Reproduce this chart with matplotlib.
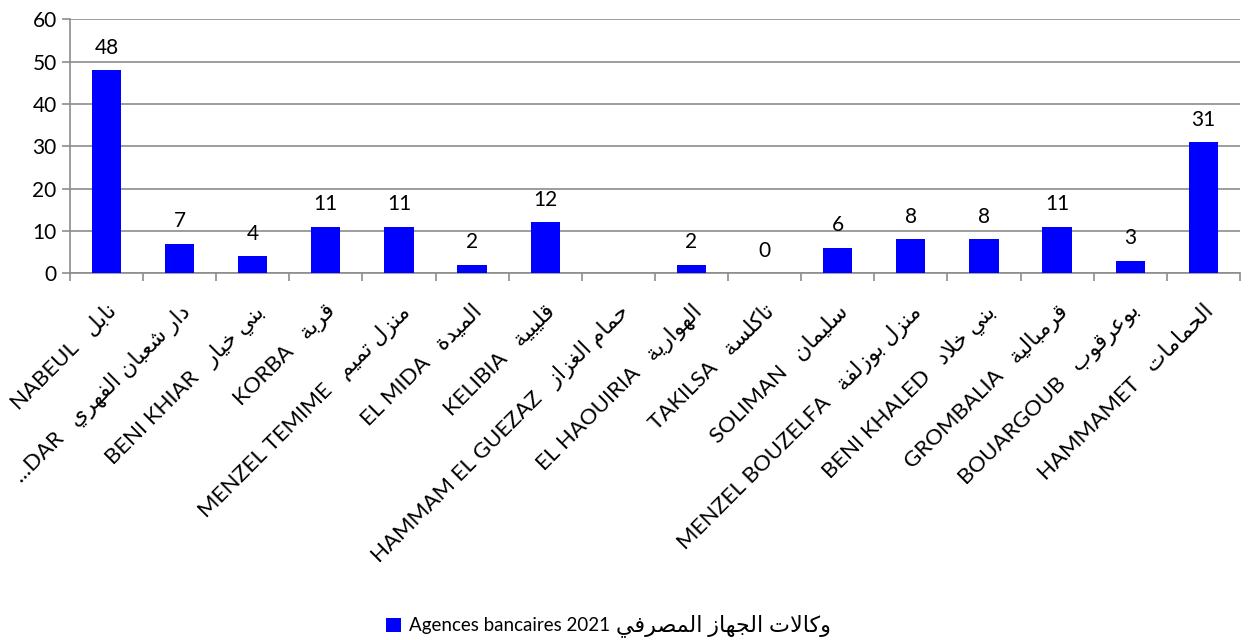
import numpy as np
import matplotlib.pyplot as plt

# Arabic letters -> (isolated, final, initial, medial) presentation forms
FORMS = {
    'ا': (0xFE8D, 0xFE8E, None, None), 'ب': (0xFE8F, 0xFE90, 0xFE91, 0xFE92),
    'ة': (0xFE93, 0xFE94, None, None), 'ت': (0xFE95, 0xFE96, 0xFE97, 0xFE98),
    'ث': (0xFE99, 0xFE9A, 0xFE9B, 0xFE9C), 'ج': (0xFE9D, 0xFE9E, 0xFE9F, 0xFEA0),
    'ح': (0xFEA1, 0xFEA2, 0xFEA3, 0xFEA4), 'خ': (0xFEA5, 0xFEA6, 0xFEA7, 0xFEA8),
    'د': (0xFEA9, 0xFEAA, None, None), 'ذ': (0xFEAB, 0xFEAC, None, None),
    'ر': (0xFEAD, 0xFEAE, None, None), 'ز': (0xFEAF, 0xFEB0, None, None),
    'س': (0xFEB1, 0xFEB2, 0xFEB3, 0xFEB4), 'ش': (0xFEB5, 0xFEB6, 0xFEB7, 0xFEB8),
    'ص': (0xFEB9, 0xFEBA, 0xFEBB, 0xFEBC), 'ض': (0xFEBD, 0xFEBE, 0xFEBF, 0xFEC0),
    'ط': (0xFEC1, 0xFEC2, 0xFEC3, 0xFEC4), 'ظ': (0xFEC5, 0xFEC6, 0xFEC7, 0xFEC8),
    'ع': (0xFEC9, 0xFECA, 0xFECB, 0xFECC), 'غ': (0xFECD, 0xFECE, 0xFECF, 0xFED0),
    'ف': (0xFED1, 0xFED2, 0xFED3, 0xFED4), 'ق': (0xFED5, 0xFED6, 0xFED7, 0xFED8),
    'ك': (0xFED9, 0xFEDA, 0xFEDB, 0xFEDC), 'ل': (0xFEDD, 0xFEDE, 0xFEDF, 0xFEE0),
    'م': (0xFEE1, 0xFEE2, 0xFEE3, 0xFEE4), 'ن': (0xFEE5, 0xFEE6, 0xFEE7, 0xFEE8),
    'ه': (0xFEE9, 0xFEEA, 0xFEEB, 0xFEEC), 'و': (0xFEED, 0xFEEE, None, None),
    'ى': (0xFEEF, 0xFEF0, None, None), 'ي': (0xFEF1, 0xFEF2, 0xFEF3, 0xFEF4),
}


def ar(s):
    """shape arabic text and put it in visual (left to right) order"""
    chars = list(s)
    out = []
    i = 0
    while i < len(chars):
        c = chars[i]
        if c not in FORMS:
            out.append(c)
            i += 1
            continue
        prev = chars[i - 1] if i > 0 else None
        joins_prev = prev in FORMS and FORMS[prev][2] is not None
        # lam + alef ligature
        if c == 'ل' and i + 1 < len(chars) and chars[i + 1] == 'ا':
            out.append(chr(0xFEFC if joins_prev else 0xFEFB))
            i += 2
            continue
        nxt = chars[i + 1] if i + 1 < len(chars) else None
        joins_next = nxt in FORMS and FORMS[c][2] is not None
        iso, fin, ini, med = FORMS[c]
        if joins_prev and joins_next:
            code = med
        elif joins_prev:
            code = fin
        elif joins_next:
            code = ini
        else:
            code = iso
        out.append(chr(code))
        i += 1
    return ''.join(reversed(out))


names_fr = ['NABEUL', '...DAR', 'BENI KHIAR', 'KORBA', 'MENZEL TEMIME', 'EL MIDA',
            'KELIBIA', 'HAMMAM EL GUEZAZ', 'EL HAOUIRIA', 'TAKILSA', 'SOLIMAN',
            'MENZEL BOUZELFA', 'BENI KHALED', 'GROMBALIA', 'BOUARGOUB', 'HAMMAMET']
names_ar = ['نابل', 'دار شعبان الفهري', 'بني خيار', 'قربة', 'منزل تميم', 'الميدة',
            'قليبية', 'حمام الغزاز', 'الهوارية', 'تاكلسة', 'سليمان',
            'منزل بوزلفة', 'بني خلاد', 'قرمبالية', 'بوعرقوب', 'الحمامات']
agences = [48, 7, 4, 11, 11, 2, 12, np.nan, 2, 0, 6, 8, 8, 11, 3, 31]
legend_fr = 'Agences bancaires 2021'
legend_ar = 'وكالات الجهاز المصرفي'

plt.rcParams['font.family'] = ['Lato', 'DejaVu Sans']

fig = plt.figure(figsize=(12.48, 6.4), dpi=100)
ax = fig.add_axes([0.056, 0.573, 0.9375, 0.397])

x = np.arange(len(agences))
bars = ax.bar(x, agences, width=0.4, color='#0000FF', zorder=3)
labels = ['' if np.isnan(v) else '%d' % v for v in agences]
ax.bar_label(bars, labels=labels, padding=9, fontsize=15)

ax.set_xlim(-0.5, len(agences) - 0.5)
ax.set_ylim(0, 60)
ax.set_yticks(np.arange(0, 61, 10))
ax.yaxis.grid(True, color='#8c8c8c', linewidth=1.2, zorder=0)

# ticks between categories, names centred under the bars
ax.set_xticks(np.arange(-0.5, len(agences), 1.0))
ax.set_xticklabels([])
ax.set_xticks(x, minor=True)
ax.set_xticklabels([f + '   ' + ar(a) for f, a in zip(names_fr, names_ar)],
                   minor=True, rotation=45, ha='right', va='top',
                   rotation_mode='anchor', fontsize=16)
ax.tick_params(axis='x', which='minor', length=0, pad=20)
ax.tick_params(axis='x', which='major', length=6, color='#8c8c8c', width=1.2)
ax.tick_params(axis='y', length=6, color='#8c8c8c', width=1.2, labelsize=15)

for s in ['top', 'right']:
    ax.spines[s].set_visible(False)
for s in ['left', 'bottom']:
    ax.spines[s].set_color('#8c8c8c')
    ax.spines[s].set_linewidth(1.2)

# legend: french part in the legend, arabic part written right after it
leg = fig.legend(handles=[bars], labels=[legend_fr], loc='center left',
                 bbox_to_anchor=(0.296, 0.022), frameon=False, fontsize=13.5,
                 handlelength=0.8, handleheight=0.8, handletextpad=0.4)
fig.canvas.draw()
bb = leg.get_texts()[0].get_window_extent()
fig.text((bb.x1 + 6) / fig.bbox.width, (bb.y0 + bb.y1) / 2 / fig.bbox.height,
         ar(legend_ar), fontsize=16, va='center', ha='left')

fig.savefig('out.png', dpi=100)
